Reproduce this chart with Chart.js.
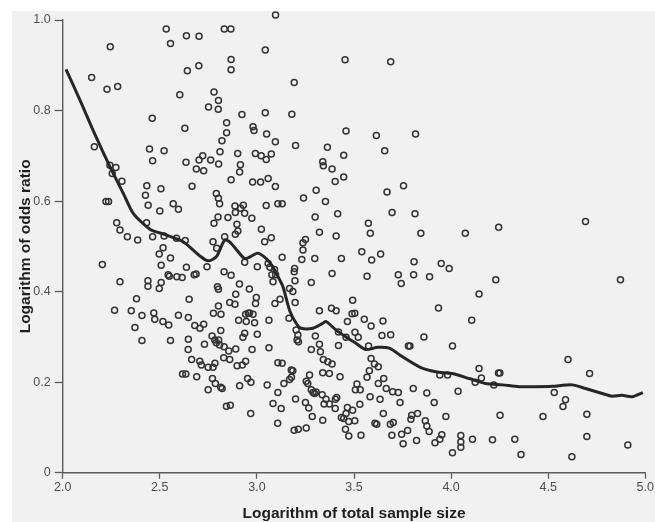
<!DOCTYPE html>
<html>
<head>
<meta charset="utf-8">
<script src="https://cdn.jsdelivr.net/npm/chart.js@4.4.1/dist/chart.umd.min.js"></script>
<style>
  html, body { margin: 0; padding: 0; background: #ffffff; }
  #wrap { width: 655px; height: 522px; position: relative; }
</style>
</head>
<body>
<div id="wrap"><canvas id="c" width="655" height="522"></canvas></div>
<script>
// Study points [log total sample size, log odds ratio]
const upperLeft = [
[3.096,1.011],[2.533,0.980],[2.832,0.980],[2.866,0.980],[2.555,0.948],[2.637,0.965],[2.702,0.964],[2.245,0.941],[3.043,0.934],[2.867,0.913],
[2.867,0.890],[2.642,0.888],[2.701,0.899],[2.149,0.873],[2.228,0.847],[2.283,0.853],[3.192,0.862],[2.603,0.835],[2.779,0.841],[2.802,0.822],
[2.751,0.808],[2.801,0.803],[2.923,0.791],[3.043,0.795],[3.180,0.792],[2.461,0.783],[2.844,0.773],[2.629,0.761],[2.980,0.764],[2.985,0.756],
[2.844,0.751],[3.050,0.748],[2.820,0.733],[3.095,0.731],[3.199,0.723],[2.163,0.720],[2.447,0.715],[2.522,0.711],[2.810,0.709],[2.901,0.705],
[2.992,0.705],[3.022,0.700],[3.074,0.704],[3.048,0.692],[3.363,0.719],[2.463,0.689],[2.635,0.686],[2.702,0.691],[2.721,0.700],[2.762,0.691],
[2.803,0.682],[2.915,0.680],[2.688,0.671],[2.726,0.667],[2.911,0.664],[2.243,0.679],[2.274,0.674],[2.255,0.661],[2.305,0.644],[2.867,0.647],
[2.978,0.642],[3.019,0.642],[3.058,0.650],[3.095,0.632],[3.339,0.687],[3.342,0.678],[3.305,0.624],[3.353,0.599],[2.666,0.633],[2.433,0.634],
[2.426,0.613],[2.506,0.627],[2.440,0.591],[2.500,0.578],[2.569,0.594],[2.596,0.582],[2.791,0.617],[2.802,0.606],[2.808,0.594],[2.223,0.599],
[2.236,0.599],[3.240,0.607],[3.048,0.590],[3.108,0.594],[3.130,0.594],[2.887,0.589],[2.930,0.591],[2.889,0.575],[2.937,0.573],[2.916,0.584],
[2.974,0.562],[2.800,0.565],[2.779,0.551],[2.851,0.564],[2.897,0.549],[2.902,0.534],[2.889,0.527],[3.023,0.538],[3.300,0.565],[3.322,0.531],
[2.278,0.552],[2.295,0.536],[2.333,0.521],[2.386,0.514],[2.432,0.552],[2.463,0.521],[2.522,0.523],[2.586,0.518],[2.631,0.513],[2.774,0.510],
[2.793,0.496],[2.834,0.521],[3.040,0.510],[3.074,0.519],[3.250,0.515],[3.237,0.508],[3.237,0.492],[3.231,0.471],[3.298,0.473],[3.130,0.476],
[3.194,0.451],[2.497,0.483],[2.517,0.497],[2.555,0.474],[2.204,0.460],[2.507,0.458],[2.637,0.454],[2.743,0.455],[2.937,0.465],[3.002,0.455],
[3.058,0.462]
];
const lowerLeft = [
[2.295,0.422],[2.439,0.424],[2.439,0.412],[2.507,0.420],[2.497,0.407],[2.543,0.437],[2.549,0.434],[2.588,0.433],[2.615,0.431],[2.677,0.437],
[2.687,0.439],[2.831,0.444],[2.867,0.436],[2.797,0.411],[2.802,0.405],[2.910,0.417],[2.891,0.394],[2.961,0.406],[3.077,0.437],[3.083,0.422],
[3.168,0.407],[3.185,0.400],[3.196,0.424],[3.192,0.444],[3.280,0.420],[3.119,0.383],[3.093,0.374],[3.197,0.376],[3.322,0.358],[3.062,0.337],
[3.165,0.341],[2.267,0.359],[2.353,0.358],[2.372,0.321],[2.380,0.384],[2.408,0.347],[2.469,0.353],[2.474,0.339],[2.516,0.334],[2.546,0.326],
[2.596,0.348],[2.651,0.383],[2.647,0.343],[2.680,0.325],[2.707,0.319],[2.726,0.328],[2.815,0.350],[2.776,0.352],[2.802,0.368],[2.860,0.376],
[2.887,0.372],[2.906,0.337],[2.942,0.350],[2.956,0.352],[2.980,0.350],[2.945,0.334],[2.988,0.331],[2.962,0.353],[2.993,0.374],[2.997,0.387],
[2.814,0.314],[3.002,0.306],[2.937,0.308],[2.928,0.299],[2.555,0.292],[2.647,0.295],[2.408,0.292],[2.730,0.284],[2.769,0.302],[2.783,0.293],
[2.803,0.293],[2.791,0.287],[2.808,0.282],[2.831,0.278],[2.855,0.269],[2.891,0.273],[2.646,0.272],[2.664,0.250],[2.706,0.246],[2.714,0.238],
[2.749,0.233],[2.774,0.233],[2.784,0.242],[2.829,0.254],[2.860,0.250],[2.898,0.236],[2.925,0.238],[2.942,0.246],[2.975,0.272],[3.062,0.276],
[3.108,0.243],[3.130,0.242],[3.177,0.227],[3.185,0.225],[2.617,0.218],[2.634,0.218],[2.690,0.212],[2.771,0.208],[2.786,0.197],[2.814,0.189],
[2.821,0.186],[2.749,0.183],[2.911,0.192],[2.952,0.208],[2.969,0.200],[3.053,0.194],[3.139,0.197],[3.168,0.206],[3.178,0.211],[3.254,0.202],
[3.262,0.197],[3.271,0.216],[3.108,0.177],[2.843,0.147],[2.863,0.149],[2.968,0.131],[3.083,0.153],[3.125,0.142],[3.107,0.109],[3.192,0.094],
[3.213,0.096],[3.254,0.099],[3.199,0.163],[3.250,0.155],[3.267,0.143],[3.285,0.124],[3.280,0.183],[3.289,0.177],[3.297,0.175],[3.305,0.178],
[3.301,0.302],[3.322,0.284],[3.280,0.272],[3.202,0.315],[3.211,0.304],[3.207,0.293],[3.214,0.289],[3.067,0.454],[3.091,0.449],[3.096,0.437]
];
const upperRight = [
[3.454,0.912],[3.689,0.908],[3.459,0.755],[3.615,0.745],[3.817,0.748],[3.447,0.701],[3.658,0.711],[3.387,0.671],[3.447,0.653],[3.403,0.643],
[3.755,0.634],[3.670,0.620],[3.416,0.572],[3.696,0.575],[3.814,0.572],[3.574,0.551],[3.408,0.523],[3.584,0.529],[3.844,0.529],[4.073,0.529],
[4.245,0.542],[4.692,0.555],[3.540,0.488],[3.591,0.470],[3.637,0.483],[3.435,0.473],[3.809,0.466],[3.949,0.462],[3.990,0.451]
];
const lowerRight = [
[3.387,0.440],[3.567,0.434],[3.728,0.437],[3.743,0.418],[3.807,0.437],[3.889,0.433],[4.230,0.426],[4.872,0.426],[4.144,0.395],[3.493,0.381],
[3.935,0.364],[4.106,0.337],[3.384,0.363],[3.408,0.358],[3.466,0.334],[3.490,0.351],[3.504,0.352],[3.553,0.339],[3.588,0.324],[3.649,0.335],
[3.420,0.311],[3.459,0.299],[3.505,0.310],[3.522,0.299],[3.644,0.303],[3.689,0.305],[3.860,0.300],[3.420,0.281],[3.575,0.280],[3.780,0.280],
[3.788,0.280],[4.007,0.280],[3.588,0.252],[3.605,0.240],[3.625,0.234],[3.579,0.225],[3.567,0.211],[3.327,0.267],[3.342,0.250],[3.365,0.245],
[3.387,0.240],[3.339,0.221],[3.373,0.219],[3.428,0.212],[3.653,0.208],[3.625,0.197],[3.515,0.196],[3.507,0.183],[3.532,0.183],[3.666,0.186],
[3.699,0.179],[3.728,0.177],[3.805,0.186],[3.875,0.176],[4.036,0.180],[3.942,0.216],[3.982,0.216],[4.144,0.230],[4.156,0.209],[4.124,0.200],
[4.244,0.220],[4.251,0.220],[4.220,0.194],[4.602,0.250],[4.713,0.219],[4.531,0.177],[4.589,0.161],[4.576,0.146],[3.336,0.172],[3.356,0.162],
[3.346,0.152],[3.373,0.152],[3.404,0.162],[3.411,0.166],[3.403,0.142],[3.339,0.116],[3.583,0.168],[3.634,0.162],[3.737,0.155],[3.913,0.155],
[3.530,0.151],[3.466,0.144],[3.493,0.138],[3.459,0.131],[3.435,0.122],[3.447,0.120],[3.473,0.113],[3.504,0.115],[3.456,0.096],[3.473,0.081],
[3.536,0.083],[3.651,0.131],[3.608,0.109],[3.617,0.107],[3.687,0.107],[3.702,0.111],[3.797,0.127],[3.827,0.131],[3.793,0.118],[3.867,0.115],
[3.875,0.103],[3.887,0.091],[3.973,0.124],[4.252,0.127],[4.473,0.124],[4.699,0.129],[3.695,0.083],[3.745,0.085],[3.776,0.093],[3.753,0.064],
[3.822,0.071],[3.917,0.066],[3.942,0.074],[3.952,0.084],[4.007,0.044],[4.050,0.082],[4.050,0.068],[4.050,0.056],[4.110,0.074],[4.213,0.073],
[4.328,0.074],[4.360,0.040],[4.622,0.035],[4.699,0.080],[4.910,0.061]
];
// Smoothed trend line
const trendLine = [
[2.017,0.891],[2.089,0.823],[2.163,0.750],[2.243,0.676],[2.312,0.617],[2.363,0.573],[2.449,0.538],[2.534,0.525],[2.620,0.510],[2.706,0.479],
[2.749,0.468],[2.791,0.477],[2.834,0.514],[2.860,0.510],[2.894,0.493],[2.937,0.473],[2.970,0.478],[3.005,0.485],[3.048,0.473],[3.082,0.455],
[3.100,0.440],[3.134,0.411],[3.168,0.359],[3.202,0.330],[3.228,0.319],[3.288,0.319],[3.339,0.330],[3.356,0.334],[3.408,0.315],[3.459,0.300],
[3.510,0.286],[3.562,0.272],[3.622,0.277],[3.682,0.275],[3.750,0.256],[3.836,0.234],[3.921,0.223],[4.007,0.219],[4.093,0.208],[4.178,0.197],
[4.264,0.194],[4.350,0.190],[4.435,0.190],[4.521,0.191],[4.624,0.194],[4.692,0.186],[4.778,0.175],[4.829,0.169],[4.880,0.171],[4.932,0.168],
[4.987,0.177]
];
const xTicks = [2.0, 2.5, 3.0, 3.5, 4.0, 4.5, 5.0];
const yTicks = [0, 0.2, 0.4, 0.6, 0.8, 1.0];
const xTitle = 'Logarithm of total sample size';
const yTitle = 'Logarithm of odds ratio';

const toXY = arr => arr.map(p => ({x: p[0], y: p[1]}));
const allPoints = [].concat(upperLeft, lowerLeft, upperRight, lowerRight);

const paper = {
  id: 'paper',
  beforeDraw(chart) {
    const ctx = chart.ctx;
    ctx.save();
    ctx.fillStyle = '#ffffff';
    ctx.fillRect(0, 0, chart.width, chart.height);
    ctx.fillStyle = '#f1f1f1';
    ctx.fillRect(12, 11, chart.width - 12, chart.height - 11);
    ctx.restore();
  }
};

const axisColor = '#5a5a5a';
new Chart(document.getElementById('c'), {
  type: 'scatter',
  data: {
    datasets: [
      {
        type: 'line',
        data: toXY(trendLine),
        borderColor: '#262626',
        borderWidth: 3,
        pointRadius: 0,
        tension: 0.25,
        fill: false
      },
      {
        data: toXY(allPoints),
        pointStyle: 'circle',
        pointRadius: 3,
        pointBorderWidth: 1.5,
        borderColor: '#333333',
        backgroundColor: 'rgba(0,0,0,0)',
        pointBackgroundColor: 'rgba(0,0,0,0)',
        clip: false
      }
    ]
  },
  options: {
    responsive: false,
    animation: false,
    devicePixelRatio: 1,
    layout: { padding: { top: 20, right: 8, left: 0, bottom: 0 } },
    plugins: { legend: { display: false }, tooltip: { enabled: false } },
    scales: {
      x: {
        type: 'linear',
        min: 2, max: 5,
        afterFit(scale) { scale.height = 49.3; },
        afterBuildTicks(scale) { scale.ticks = xTicks.map(v => ({value: v})); },
        grid: { display: true, drawOnChartArea: false, drawTicks: true, tickLength: 6, color: axisColor, tickWidth: 1.3 },
        border: { display: true, color: axisColor, width: 1.4 },
        ticks: {
          color: '#505050', padding: 1,
          font: { family: 'Liberation Sans', size: 12.5 },
          callback: v => Number(v).toFixed(1),
          maxRotation: 0, autoSkip: false
        },
        title: {
          display: true, text: xTitle, color: '#1e1e1e',
          font: { family: 'Liberation Sans', size: 15.5, weight: 'bold', lineHeight: 1 },
          padding: { top: 0, bottom: 1 }
        }
      },
      y: {
        type: 'linear',
        min: 0, max: 1,
        afterFit(scale) { scale.width = 62.7; },
        afterBuildTicks(scale) { scale.ticks = yTicks.map(v => ({value: v})); },
        grid: { display: true, drawOnChartArea: false, drawTicks: true, tickLength: 8, color: axisColor, tickWidth: 1.3 },
        border: { display: true, color: axisColor, width: 1.4 },
        ticks: {
          color: '#505050', padding: 4,
          font: { family: 'Liberation Sans', size: 12.5 },
          callback: v => (v === 0 ? '0' : Number(v).toFixed(1)),
          autoSkip: false
        },
        title: {
          display: true, text: yTitle, color: '#1e1e1e',
          font: { family: 'Liberation Sans', size: 15.5, weight: 'bold', lineHeight: 1 },
          padding: { top: 18, bottom: 0 }
        }
      }
    }
  },
  plugins: [paper]
});
</script>
</body>
</html>
